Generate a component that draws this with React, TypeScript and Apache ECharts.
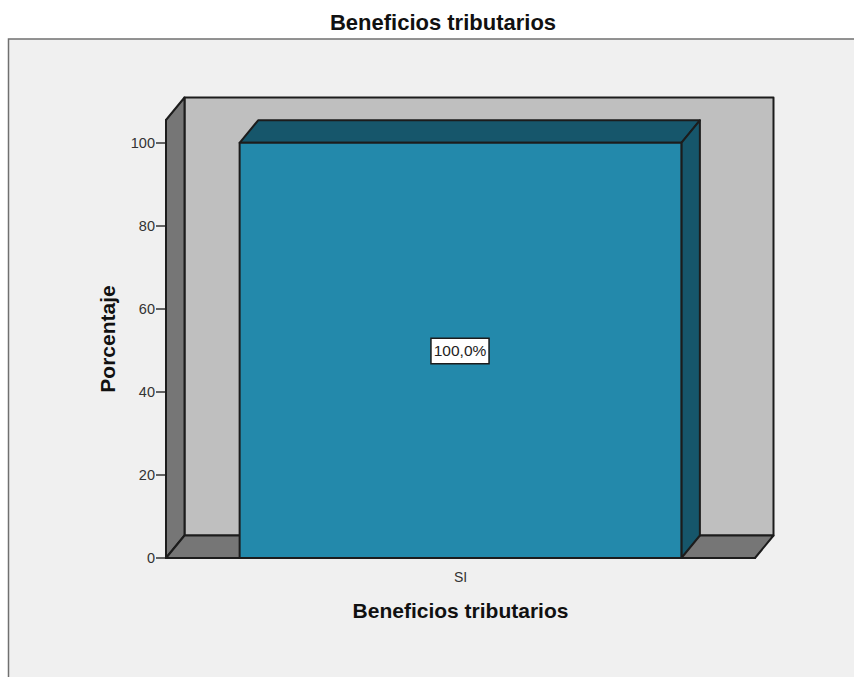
import React, { useEffect, useRef } from "react";
import * as echarts from "echarts";

const chartTitle = "Beneficios tributarios";
const xAxisTitle = "Beneficios tributarios";
const yAxisTitle = "Porcentaje";
const categories = ["SI"];
const percentages = [100];
const yTicks = [0, 20, 40, 60, 80, 100];
const yMax = 105.5;

const FONT = '"Liberation Sans", Arial, sans-serif';
const DEPTH_X = 18.5;
const DEPTH_Y = 22.5;
const EDGE = "#1c1c1c";

function poly(points: number[][], fill: string) {
  return {
    type: "polygon",
    shape: { points },
    style: { fill, stroke: EDGE, lineWidth: 2, lineJoin: "round" },
  };
}

function renderWalls(params: any) {
  const { x, y, width: w, height: h } = params.coordSys;
  const b = y + h;
  const r = x + w;
  return {
    type: "group",
    children: [
      poly([[x + DEPTH_X, y - DEPTH_Y], [r + DEPTH_X, y - DEPTH_Y], [r + DEPTH_X, b - DEPTH_Y], [x + DEPTH_X, b - DEPTH_Y]], "#bfbfbf"),
      poly([[x, y], [x + DEPTH_X, y - DEPTH_Y], [x + DEPTH_X, b - DEPTH_Y], [x, b]], "#767676"),
      poly([[x, b], [x + DEPTH_X, b - DEPTH_Y], [r + DEPTH_X, b - DEPTH_Y], [r, b]], "#767676"),
    ],
  };
}

function renderBar(params: any, api: any) {
  const value = api.value(1);
  const [cx, top] = api.coord([api.value(0), value]);
  const [, base] = api.coord([api.value(0), 0]);
  const [, mid] = api.coord([api.value(0), value / 2]);
  const half = (api.size([1, 0])[0] * 0.75) / 2;
  const l = cx - half;
  const r = cx + half;
  return {
    type: "group",
    children: [
      poly([[l, top], [l + DEPTH_X, top - DEPTH_Y], [r + DEPTH_X, top - DEPTH_Y], [r, top]], "#16566b"),
      poly([[r, top], [r + DEPTH_X, top - DEPTH_Y], [r + DEPTH_X, base - DEPTH_Y], [r, base]], "#16566b"),
      poly([[l, top], [r, top], [r, base], [l, base]], "#2389ab"),
      {
        type: "text",
        x: cx - 0.5,
        y: mid + 0.5,
        style: {
          text: value.toFixed(1).replace(".", ",") + "%",
          fontFamily: FONT,
          fontSize: 15.5,
          fill: "#222",
          align: "center",
          verticalAlign: "middle",
          backgroundColor: "#fff",
          borderColor: "#1c1c1c",
          borderWidth: 1.5,
          padding: [4, 2, 4, 2],
        },
      },
    ],
  };
}

export default function App() {
  const ref = useRef<HTMLDivElement>(null);
  useEffect(() => {
    const chart = echarts.init(ref.current!, null, { renderer: "svg" });
    chart.setOption({
      animation: false,
      backgroundColor: "#ffffff",
      graphic: [
        {
          type: "rect",
          z: -10,
          silent: true,
          shape: { x: 8.5, y: 39, width: 900, height: 700 },
          style: { fill: "#f0f0f0", stroke: "#707070", lineWidth: 1.5 },
        },
      ],
      title: {
        text: chartTitle,
        left: 438,
        top: 6,
        textAlign: "center",
        textStyle: { fontFamily: FONT, fontSize: 22, fontWeight: "bold", color: "#111" },
      },
      grid: { left: 166, right: 99, top: 120, bottom: 119 },
      xAxis: {
        type: "category",
        data: categories,
        name: xAxisTitle,
        nameLocation: "middle",
        nameGap: 42,
        nameTextStyle: { fontFamily: FONT, fontSize: 21, fontWeight: "bold", color: "#111" },
        axisLine: { lineStyle: { color: EDGE, width: 2 } },
        axisTick: { alignWithLabel: true, length: 9, lineStyle: { color: "#333", width: 1.5 } },
        axisLabel: { fontFamily: FONT, fontSize: 14, color: "#333", margin: 12 },
      },
      yAxis: {
        type: "value",
        min: 0,
        max: yMax,
        interval: 20,
        name: yAxisTitle,
        nameLocation: "middle",
        nameGap: 48,
        nameTextStyle: { fontFamily: FONT, fontSize: 21, fontWeight: "bold", color: "#111" },
        splitLine: { show: false },
        axisLine: { show: true, lineStyle: { color: EDGE, width: 2 } },
        axisTick: { show: true, length: 10, customValues: yTicks, lineStyle: { color: "#333", width: 1.5 } },
        axisLabel: { fontFamily: FONT, fontSize: 14.5, color: "#333", margin: 11, customValues: yTicks },
      },
      series: [
        {
          type: "custom",
          z: 2,
          silent: true,
          renderItem: renderWalls,
          data: [[0, yMax]],
        },
        {
          type: "custom",
          z: 3,
          silent: true,
          renderItem: renderBar,
          encode: { x: 0, y: 1 },
          data: categories.map((_, i) => [i, percentages[i]]),
        },
      ],
    });
    return () => chart.dispose();
  }, []);
  return <div ref={ref} style={{ position: "fixed", left: 0, top: 0, width: 854, height: 677 }} />;
}
